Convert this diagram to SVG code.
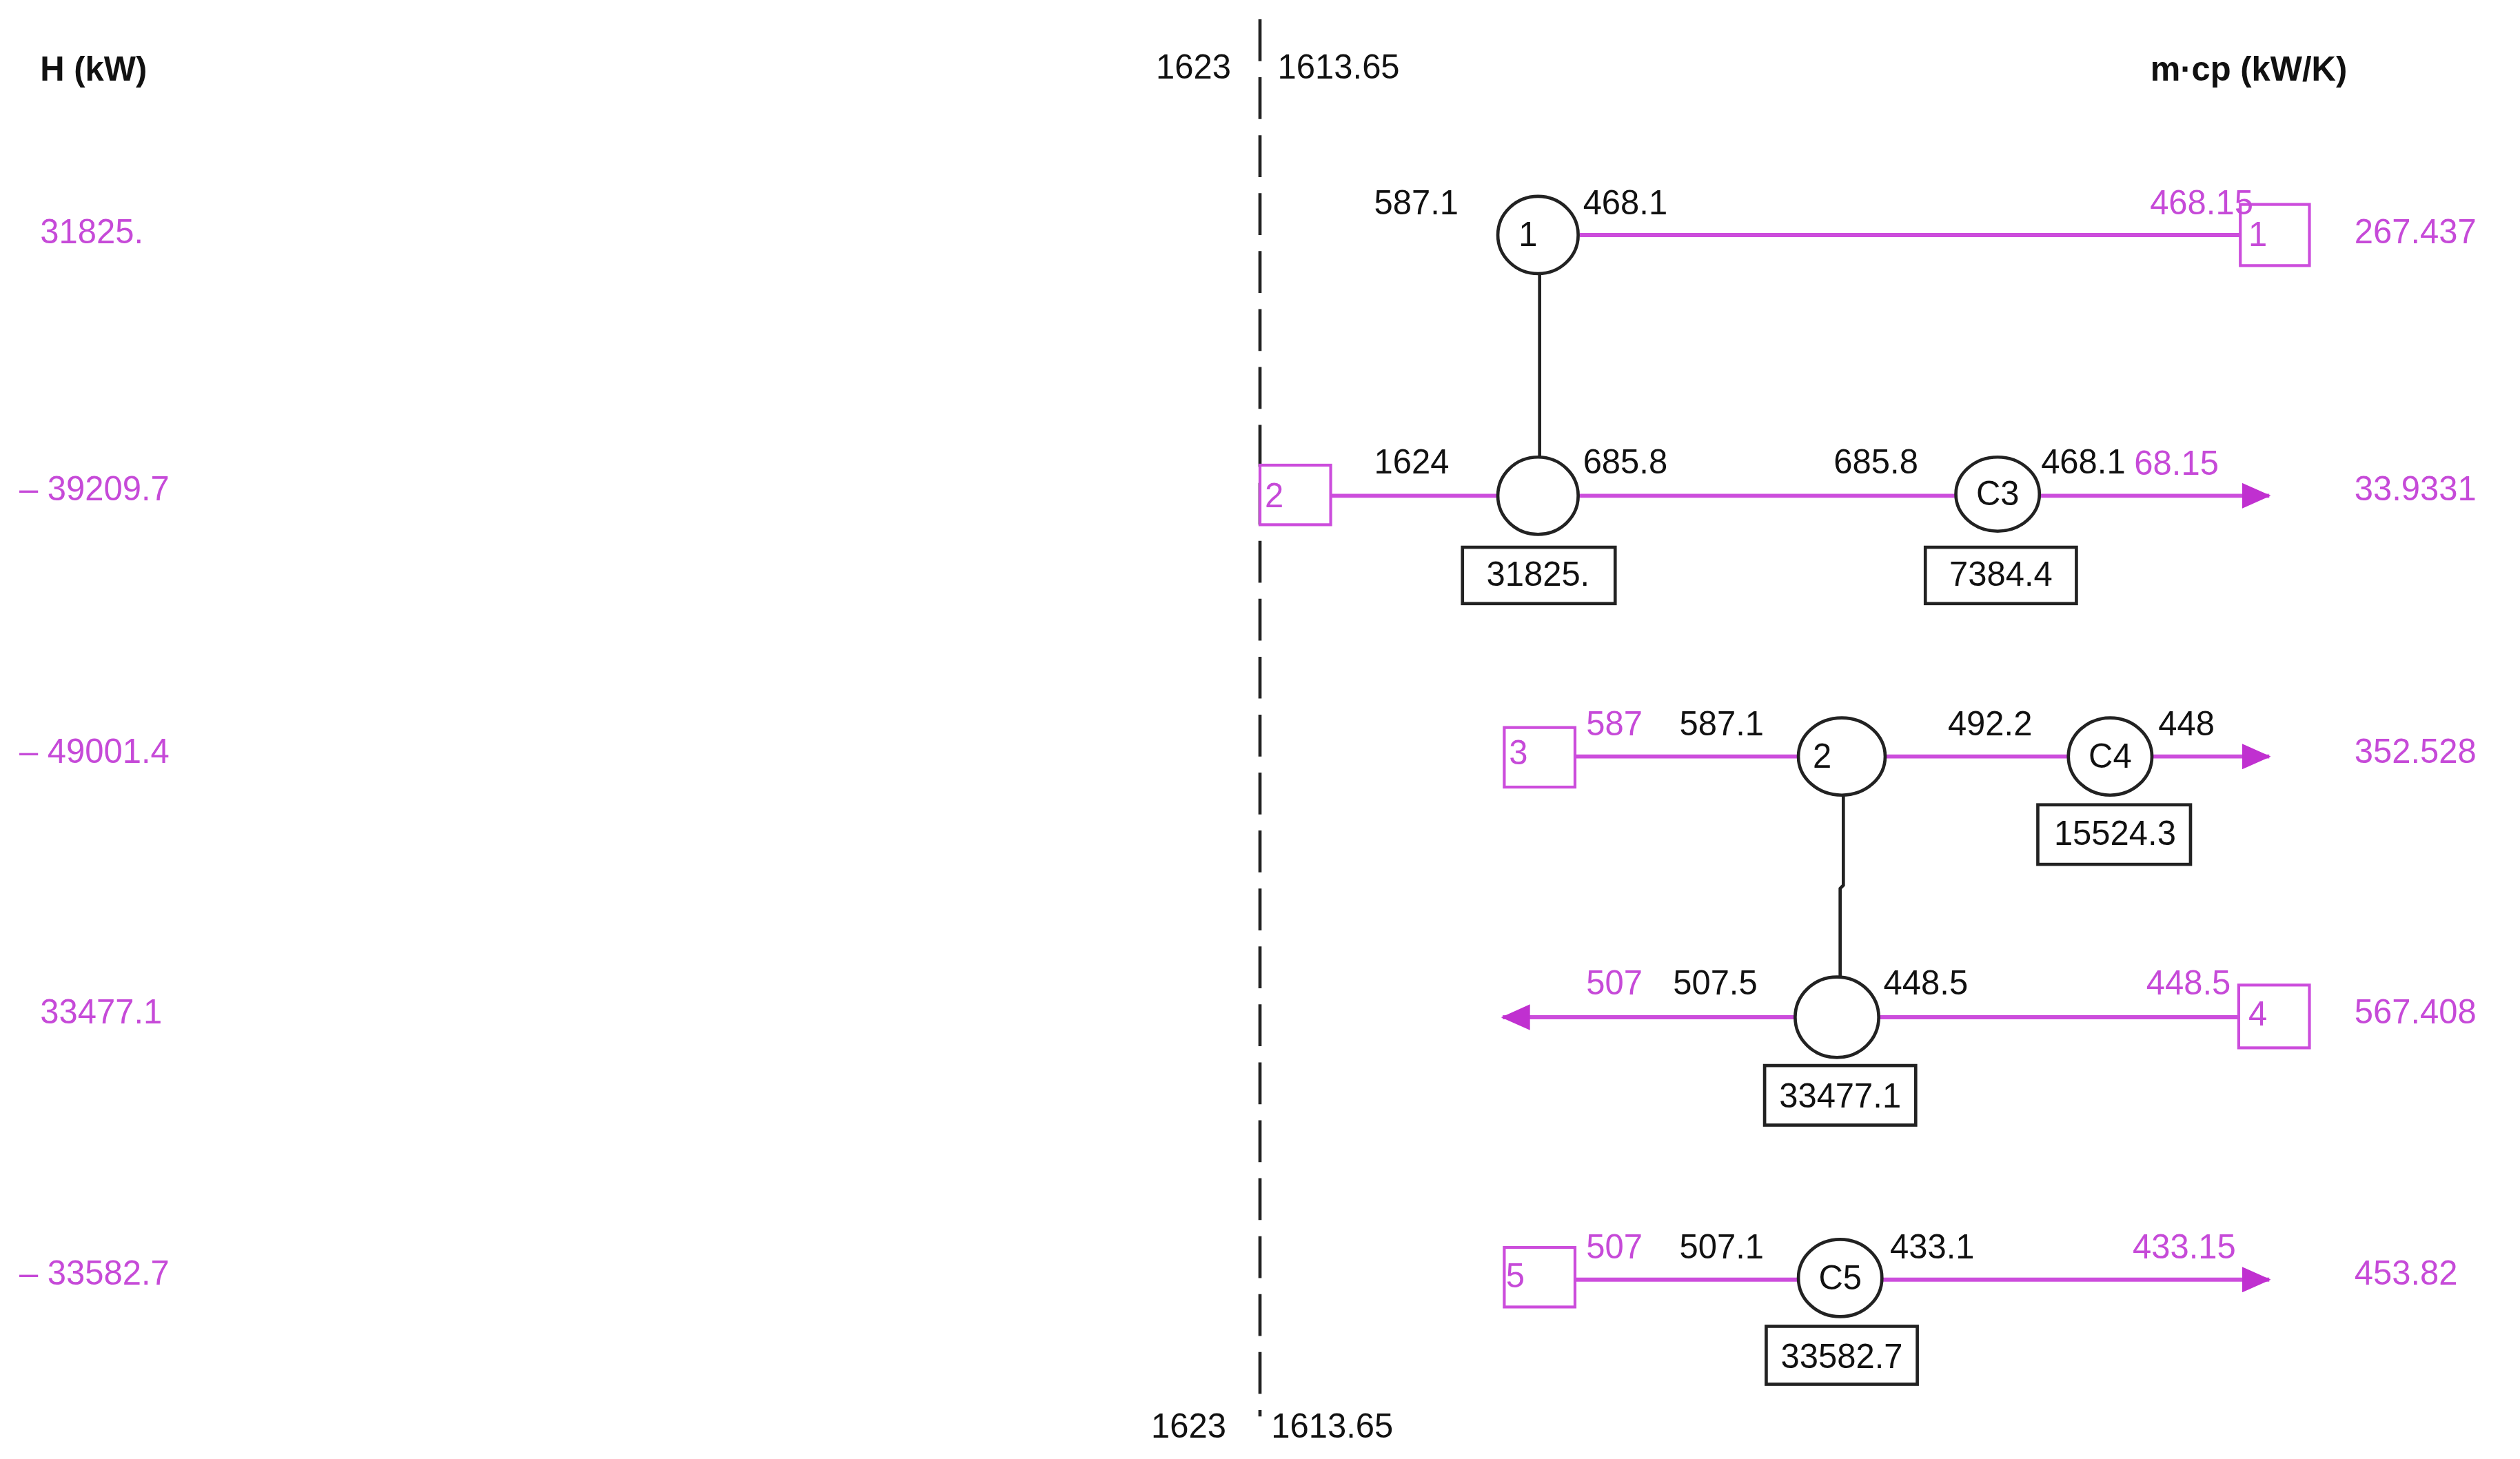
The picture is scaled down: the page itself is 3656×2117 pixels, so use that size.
<svg xmlns="http://www.w3.org/2000/svg" width="3656" height="2117" viewBox="0 0 3656 2117">
<style>
text{font-family:"Liberation Sans",Arial,sans-serif;font-size:21px;fill:#111}
.m{fill:#c64ad8}
.b{font-weight:bold}
.s{stroke:#cc4ddc;stroke-width:2.5;fill:none}
.bx{stroke:#cc4ddc;stroke-width:1.8;fill:#fff}
.hx{stroke:#222;stroke-width:2;fill:none}
.lb{stroke:#222;stroke-width:2;fill:#fff}
.c{text-anchor:middle}
</style>
<defs>
<marker id="ar" markerWidth="18" markerHeight="16" refX="17" refY="8" orient="auto" markerUnits="userSpaceOnUse"><path d="M0,0 L18,8 L0,16 z" fill="#c030d0"/></marker>
</defs>
<rect width="3656" height="2117" fill="#fff"/>
<g transform="scale(2.3316 2.3355)">
<g id="axes">
<text x="25" y="50" class="b">H (kW)</text>
<text x="1338" y="50" class="b">m·cp (kW/K)</text>
<text x="766" y="49" text-anchor="end">1623</text>
<text x="795" y="49">1613.65</text>
<text x="763" y="893" text-anchor="end">1623</text>
<text x="791" y="893">1613.65</text>
<line x1="784" y1="12" x2="784" y2="880" stroke="#222" stroke-width="2" stroke-dasharray="26,10"/>
<text x="25" y="151" class="m">31825.</text>
<text x="12" y="311" class="m">– 39209.7</text>
<text x="12" y="474" class="m">– 49001.4</text>
<text x="25" y="636" class="m">33477.1</text>
<text x="12" y="798" class="m">– 33582.7</text>
<text x="1465" y="151" class="m">267.437</text>
<text x="1465" y="311" class="m">33.9331</text>
<text x="1465" y="474" class="m">352.528</text>
<text x="1465" y="636" class="m">567.408</text>
<text x="1465" y="798" class="m">453.82</text>
</g>
<g id="connectors">
<line class="s" x1="983" y1="146" x2="1394" y2="146"/>
<line class="s" x1="828" y1="308" x2="1412" y2="308" marker-end="url(#ar)"/>
<line class="s" x1="980" y1="470" x2="1412" y2="470" marker-end="url(#ar)"/>
<line class="s" x1="1393" y1="632" x2="935" y2="632" marker-end="url(#ar)"/>
<line class="s" x1="980" y1="795" x2="1412" y2="795" marker-end="url(#ar)"/>
<line class="hx" x1="958" y1="170" x2="958" y2="285"/>
<polyline class="hx" points="1147,494 1147,550 1145,552 1145,608"/>
</g>
<g id="stream1">
<rect class="bx" x="1394" y="127" width="43" height="38"/>
<text x="1399" y="153" class="m">1</text>
<text x="1402" y="133" class="m" text-anchor="end">468.15</text>
</g>
<g id="stream2">
<rect class="bx" x="784" y="289" width="44" height="37"/>
<text x="787" y="315" class="m">2</text>
<text x="1328" y="295" class="m" font-size="19">68.15</text>
</g>
<g id="stream3">
<rect class="bx" x="936" y="452" width="44" height="37"/>
<text x="939" y="475" class="m">3</text>
<text x="987" y="457" class="m">587</text>
</g>
<g id="stream4">
<rect class="bx" x="1393" y="612" width="44" height="39"/>
<text x="1399" y="637" class="m">4</text>
<text x="987" y="618" class="m">507</text>
<text x="1388" y="618" class="m" text-anchor="end">448.5</text>
</g>
<g id="stream5">
<rect class="bx" x="936" y="775" width="44" height="37"/>
<text x="937" y="800" class="m">5</text>
<text x="987" y="782" class="m">507</text>
<text x="1327" y="782" class="m">433.15</text>
</g>
<g id="hx1">
<ellipse class="lb" cx="957" cy="146" rx="25" ry="24"/>
<text x="945" y="153">1</text>
<text x="855" y="133">587.1</text>
<text x="985" y="133">468.1</text>
</g>
<g id="hx1b">
<ellipse class="lb" cx="957" cy="308" rx="25" ry="24"/>
<text x="855" y="294">1624</text>
<text x="985" y="294">685.8</text>
<rect class="lb" x="910" y="340" width="95" height="35"/>
<text x="957" y="364" class="c">31825.</text>
</g>
<g id="C3">
<ellipse class="lb" cx="1243" cy="307" rx="26" ry="23"/>
<text x="1243" y="314" class="c">C3</text>
<text x="1141" y="294">685.8</text>
<text x="1270" y="294" font-size="19">468.1</text>
<rect class="lb" x="1198" y="340" width="94" height="35"/>
<text x="1245" y="364" class="c">7384.4</text>
</g>
<g id="hx2">
<ellipse class="lb" cx="1146" cy="470" rx="27" ry="24"/>
<text x="1128" y="477">2</text>
<text x="1045" y="457">587.1</text>
<text x="1212" y="457">492.2</text>
</g>
<g id="C4">
<ellipse class="lb" cx="1313" cy="470" rx="26" ry="24"/>
<text x="1313" y="477" class="c">C4</text>
<text x="1343" y="457">448</text>
<rect class="lb" x="1268" y="500" width="95" height="37"/>
<text x="1316" y="525" class="c">15524.3</text>
</g>
<g id="hx2b">
<ellipse class="lb" cx="1143" cy="632" rx="26" ry="25"/>
<text x="1041" y="618">507.5</text>
<text x="1172" y="618">448.5</text>
<rect class="lb" x="1098" y="662" width="94" height="37"/>
<text x="1145" y="688" class="c">33477.1</text>
</g>
<g id="C5">
<ellipse class="lb" cx="1145" cy="794" rx="26" ry="24"/>
<text x="1145" y="801" class="c">C5</text>
<text x="1045" y="782">507.1</text>
<text x="1176" y="782">433.1</text>
<rect class="lb" x="1099" y="824" width="94" height="36"/>
<text x="1146" y="850" class="c">33582.7</text>
</g>
</g>
</svg>
